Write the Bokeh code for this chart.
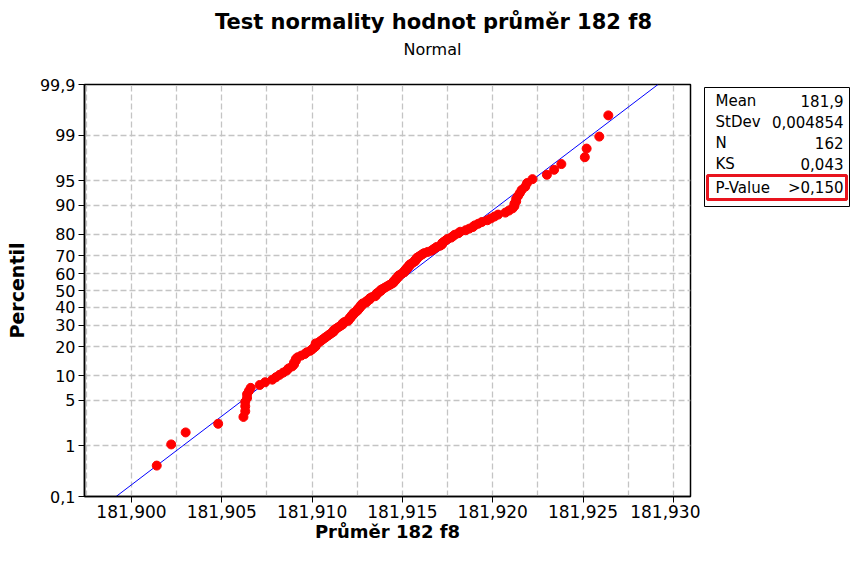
from statistics import NormalDist

from bokeh.core.properties import value
from bokeh.embed import file_html
from bokeh.layouts import column, row
from bokeh.models import CustomJSTickFormatter, FixedTicker, Range1d
from bokeh.plotting import figure
from bokeh.resources import INLINE

# ---- data: sorted diameters (mm) ----
diameters = [
    181.9014, 181.9022, 181.9030, 181.9048, 181.9062, 181.9063, 181.9063, 181.9063,
    181.9064, 181.9064, 181.9065, 181.9066, 181.9071, 181.9074, 181.9078, 181.9080,
    181.9082, 181.9084, 181.9086, 181.9087, 181.9089, 181.9090, 181.9090, 181.9091,
    181.9091, 181.9092, 181.9094, 181.9096, 181.9097, 181.9099, 181.9100, 181.9101,
    181.9102, 181.9102, 181.9102, 181.9104, 181.9105, 181.9106, 181.9107, 181.9108,
    181.9109, 181.9110, 181.9111, 181.9112, 181.9112, 181.9113, 181.9114, 181.9115,
    181.9116, 181.9117, 181.9117, 181.9118, 181.9120, 181.9120, 181.9121, 181.9121,
    181.9122, 181.9122, 181.9123, 181.9123, 181.9124, 181.9125, 181.9125, 181.9126,
    181.9126, 181.9127, 181.9127, 181.9128, 181.9128, 181.9130, 181.9130, 181.9131,
    181.9132, 181.9132, 181.9133, 181.9135, 181.9135, 181.9136, 181.9136, 181.9137,
    181.9138, 181.9138, 181.9139, 181.9140, 181.9141, 181.9142, 181.9143, 181.9144,
    181.9145, 181.9145, 181.9146, 181.9146, 181.9147, 181.9147, 181.9148, 181.9148,
    181.9149, 181.9150, 181.9151, 181.9151, 181.9152, 181.9152, 181.9153, 181.9153,
    181.9154, 181.9154, 181.9155, 181.9156, 181.9157, 181.9157, 181.9158, 181.9158,
    181.9159, 181.9160, 181.9161, 181.9162, 181.9164, 181.9166, 181.9167, 181.9168,
    181.9169, 181.9171, 181.9172, 181.9172, 181.9173, 181.9174, 181.9175, 181.9177,
    181.9178, 181.9179, 181.9181, 181.9182, 181.9185, 181.9187, 181.9189, 181.9190,
    181.9192, 181.9194, 181.9197, 181.9199, 181.9201, 181.9203, 181.9207, 181.9209,
    181.9211, 181.9212, 181.9212, 181.9213, 181.9213, 181.9214, 181.9215, 181.9216,
    181.9218, 181.9219, 181.9222, 181.9230, 181.9234, 181.9238, 181.9251, 181.9252,
    181.9259, 181.9264,
]

fit_mean = 181.91415
fit_stdev = 0.004854

stats_names = ["Mean", "StDev", "N", "KS", "P-Value"]
stats_values = ["181,9", "0,004854", "162", "0,043", ">0,150"]

pct_ticks = [0.1, 1, 5, 10, 20, 30, 40, 50, 60, 70, 80, 90, 95, 99, 99.9]
pct_labels = ["0,1", "1", "5", "10", "20", "30", "40", "50", "60", "70", "80",
              "90", "95", "99", "99,9"]

x_ticks = [181.900, 181.905, 181.910, 181.915, 181.920, 181.925, 181.930]
x_labels = ["181,900", "181,905", "181,910", "181,915", "181,920", "181,925", "181,930"]
x_minor = [181.8975, 181.9025, 181.9075, 181.9125, 181.9175, 181.9225, 181.9275]

title_text = "Test normality hodnot průměr 182 f8"
subtitle_text = "Normal"
x_title = "Průměr 182 f8"
y_title = "Percentil"

# ---- probability scale (normal quantiles), Benard median ranks ----
nd = NormalDist()
n = len(diameters)
z_pos = [nd.inv_cdf((i + 1 - 0.3) / (n + 0.4)) for i in range(n)]
z_ticks = [nd.inv_cdf(p / 100.0) for p in pct_ticks]
z_min, z_max = z_ticks[0], z_ticks[-1]
x_min, x_max = 181.8974, 181.93095

FONT = "DejaVu Sans"
GRID = "#c4c4c4"

# layout in page pixels
W_TOTAL, H_TOTAL = 851, 546
H_HEAD = 62                      # title strip
W_MAIN = 700
W_STATS = W_TOTAL - W_MAIN
H = H_TOTAL - H_HEAD
F_LEFT, F_RIGHT, F_TOP, F_BOTTOM = 84, 690, 84, 496   # frame in page pixels

# ---- title strip ----
t = figure(width=W_TOTAL, height=H_HEAD, output_backend="svg", toolbar_location=None,
           title=None, x_axis_location=None, y_axis_location=None,
           x_range=Range1d(0, W_TOTAL), y_range=Range1d(H_HEAD, 0),
           min_border=0, outline_line_color=None)
t.grid.visible = False
t.text(x=[433], y=[21], text=[title_text], text_font=value(FONT),
       text_font_size="21px", text_font_style="bold", text_align="center",
       text_baseline="middle", text_color="black")
t.text(x=[432], y=[49], text=[subtitle_text], text_font=value(FONT),
       text_font_size="16px", text_align="center", text_baseline="middle",
       text_color="black")

# ---- main probability plot ----
p = figure(width=W_MAIN, height=H, output_backend="svg", toolbar_location=None,
           title=None, x_range=Range1d(x_min, x_max), y_range=Range1d(z_min, z_max),
           min_border_left=F_LEFT, min_border_right=W_MAIN - F_RIGHT,
           min_border_top=F_TOP - H_HEAD, min_border_bottom=H_TOTAL - F_BOTTOM)
p.outline_line_color = "black"
p.outline_line_width = 1.5

xt = FixedTicker(ticks=x_ticks, minor_ticks=x_minor)
yt = FixedTicker(ticks=z_ticks, minor_ticks=[])
p.xaxis.ticker = xt
p.yaxis.ticker = yt
p.xgrid.ticker = xt
p.ygrid.ticker = yt

p.xaxis.formatter = CustomJSTickFormatter(args=dict(tv=x_ticks, labs=x_labels), code="""
for (let i = 0; i < tv.length; i++) { if (Math.abs(tv[i] - tick) < 1e-7) return labs[i]; }
return '';
""")
p.yaxis.formatter = CustomJSTickFormatter(args=dict(tv=z_ticks, labs=pct_labels), code="""
for (let i = 0; i < tv.length; i++) { if (Math.abs(tv[i] - tick) < 1e-6) return labs[i]; }
return '';
""")

for ax in (p.xaxis, p.yaxis):
    ax.axis_line_color = "black"
    ax.axis_line_width = 1.5
    ax.major_tick_line_color = "black"
    ax.major_tick_out = 6
    ax.major_tick_in = 0
    ax.minor_tick_line_color = None
    ax.major_label_text_font = FONT
    ax.major_label_text_font_size = "17px"
    ax.major_label_text_color = "black"
    ax.axis_label_text_font = FONT
    ax.axis_label_text_font_size = "18px"
    ax.axis_label_text_font_style = "bold"
    ax.axis_label_text_color = "black"

p.yaxis.major_label_text_font_size = "16px"
p.yaxis.axis_label_text_font_size = "19px"
p.xaxis.axis_label = x_title
p.yaxis.axis_label = y_title
p.xaxis.major_label_standoff = 2
p.xaxis.axis_label_standoff = 0
p.yaxis.major_label_standoff = 3
p.yaxis.axis_label_standoff = 9

for g in (p.xgrid, p.ygrid):
    g.grid_line_color = GRID
    g.grid_line_dash = "6 3"
    g.grid_line_width = 1.3
p.xgrid.minor_grid_line_color = GRID
p.xgrid.minor_grid_line_dash = "6 3"
p.xgrid.minor_grid_line_width = 1.3

# fitted normal line
p.line(x=[fit_mean + z_min * fit_stdev, fit_mean + z_max * fit_stdev],
       y=[z_min, z_max], line_color="#0000ff", line_width=1)
# data points
p.scatter(x=diameters, y=z_pos, size=9, fill_color="red", line_color="red")

# ---- statistics box (coordinates in page pixels) ----
s = figure(width=W_STATS, height=H, output_backend="svg", toolbar_location=None,
           title=None, x_axis_location=None, y_axis_location=None,
           x_range=Range1d(W_MAIN, W_TOTAL), y_range=Range1d(F_BOTTOM, F_TOP),
           min_border_left=0, min_border_right=0,
           min_border_top=F_TOP - H_HEAD, min_border_bottom=H_TOTAL - F_BOTTOM,
           outline_line_color=None)
s.grid.visible = False

s.quad(left=[704], right=[849], top=[87], bottom=[206],
       fill_color=None, line_color="black", line_width=1)
s.quad(left=[707], right=[846], top=[175], bottom=[199],
       fill_color=None, line_color="#e8141e", line_width=3)

row_y = [100, 121, 142, 163, 187]
s.text(x=[715] * len(stats_names), y=row_y, text=stats_names,
       text_font=value(FONT), text_font_size="15px", text_baseline="middle",
       text_align="left", text_color="black")
s.text(x=[843] * len(stats_values), y=row_y, text=stats_values,
       text_font=value(FONT), text_font_size="15px", text_baseline="middle",
       text_align="right", text_color="black")

layout = column(t, row(p, s))
open("out.html", "w").write(file_html(layout, INLINE))
